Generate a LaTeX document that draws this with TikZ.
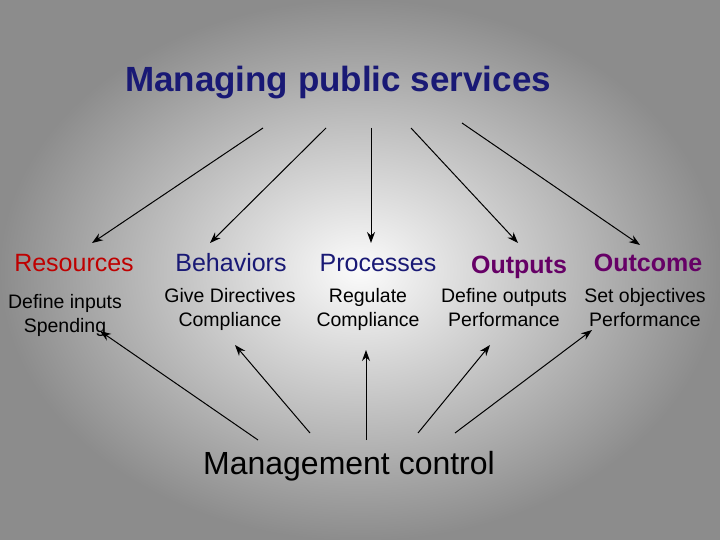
\documentclass[tikz,border=0pt]{standalone}
\usepackage{fontspec}
\setmainfont{Liberation Sans}
\usetikzlibrary{arrows.meta}
\begin{document}
\begin{tikzpicture}[x=1pt,y=-1pt,
  arr/.style={-{Stealth[length=11pt,width=8pt]},line width=1pt,black},
  lbl/.style={font=\fontsize{25}{28}\selectfont,anchor=base},
  sub/.style={font=\fontsize{19.5}{24}\selectfont,align=center,anchor=north}]
\shade[inner color=white!97!gray, outer color=black!45, shading=radial] (0,0) rectangle (720,540);
\useasboundingbox (0,0) rectangle (720,540);
\node[font=\bfseries\fontsize{35}{38}\selectfont, text=blue!40!black!90, anchor=base] (title) at (338,92) {Managing public services};
\node[lbl,text=red!75!black] (res) at (74,271) {Resources};
\node[lbl,text=blue!40!black!90] (beh) at (231,271) {Behaviors};
\node[lbl,text=blue!40!black!90] (pro) at (378,271) {Processes};
\node[lbl,text=violet!80!black,font=\bfseries\fontsize{25}{28}\selectfont] (out) at (519,273) {Outputs};
\node[lbl,text=violet!80!black,font=\bfseries\fontsize{25}{28}\selectfont] (oc) at (648,271) {Outcome};
\node[sub] (s1) at (65,291) {Define inputs\\ Spending};
\node[sub] (s2) at (230,285) {Give Directives\\ Compliance};
\node[sub] (s3) at (368,285) {Regulate\\ Compliance};
\node[sub] (s4) at (504,285) {Define outputs\\ Performance};
\node[sub] (s5) at (645,285) {Set objectives\\ Performance};
\node[font=\fontsize{32}{35}\selectfont,anchor=base] (mc) at (349,474) {Management control};
\node[font=\fontsize{9}{10}\selectfont,text=black!45,anchor=base] (pg) at (673,518) {9};
\coordinate (t1) at (263,128); \coordinate (t2) at (326,128); \coordinate (t3) at (371,128);
\coordinate (t4) at (411,128); \coordinate (t5) at (462,123);
\coordinate (b1) at (258,440); \coordinate (b2) at (310,433); \coordinate (b3) at (366,440);
\coordinate (b4) at (418,433); \coordinate (b5) at (455,433);
\coordinate (e1) at (92,243); \coordinate (e2) at (210,243); \coordinate (e3) at (371,243);
\coordinate (e4) at (518,243); \coordinate (e5) at (640,245);
\coordinate (f1) at (100,331); \coordinate (f2) at (235,345); \coordinate (f3) at (366,350);
\coordinate (f4) at (490,345); \coordinate (f5) at (592,330);
\foreach \i in {1,...,5}{\draw[arr] (t\i) -- (e\i); \draw[arr] (b\i) -- (f\i);}
\end{tikzpicture}
\end{document}
